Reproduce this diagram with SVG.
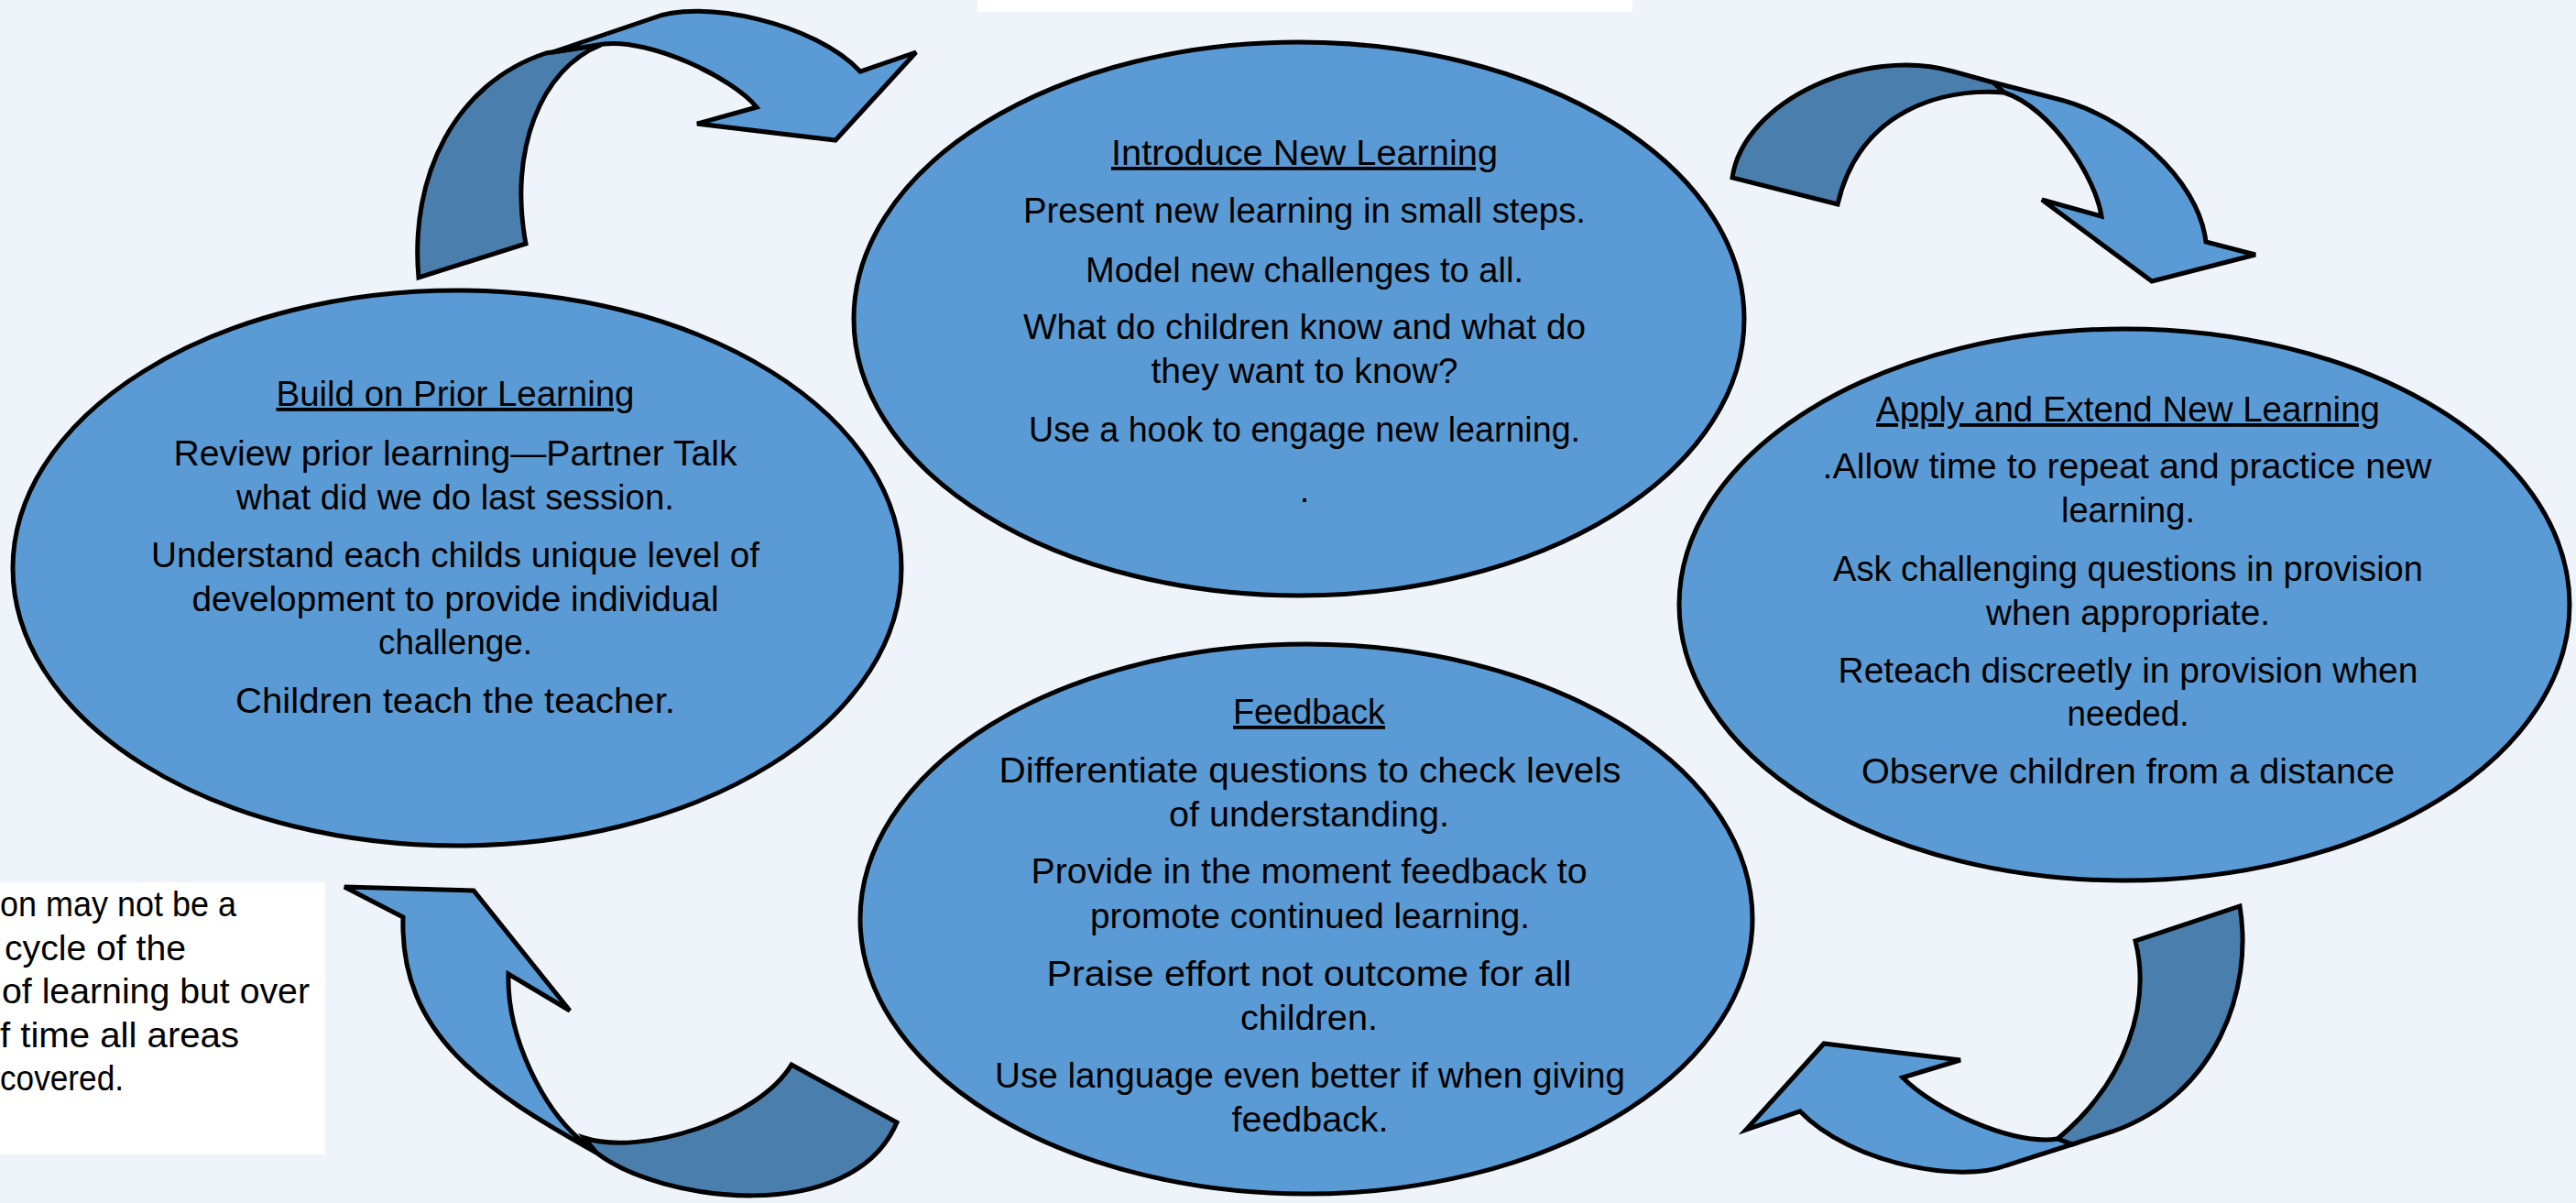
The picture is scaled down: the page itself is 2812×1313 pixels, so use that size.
<svg xmlns="http://www.w3.org/2000/svg" width="2812" height="1313" viewBox="0 0 2812 1313">
<style>
.bg{fill:#EFF4FB}
.node{fill:#5B9BD5;stroke:#000;stroke-width:5}
.lt{fill:#5B9BD5;stroke:#000;stroke-width:5;stroke-linejoin:miter}
.dk{fill:#4A7EAD;stroke:#000;stroke-width:5;stroke-linejoin:miter}
text{font-family:"Liberation Sans",Arial,sans-serif;font-size:38px;fill:#000}
.c{text-anchor:middle}
.h{text-decoration:underline}
</style>
<rect class="bg" x="0" y="0" width="2812" height="1313"/>
<rect x="1067" y="0" width="715" height="13" fill="#fff"/>
<g id="note">
<rect x="0" y="963" width="355" height="297" fill="#fff"/>
<text x="0" y="1000" textLength="258" lengthAdjust="spacingAndGlyphs">on may not be a</text>
<text x="5" y="1048" textLength="198" lengthAdjust="spacingAndGlyphs">cycle of the</text>
<text x="2" y="1095" textLength="336" lengthAdjust="spacingAndGlyphs">of learning but over</text>
<text x="0" y="1143" textLength="261" lengthAdjust="spacingAndGlyphs">f time all areas</text>
<text x="0" y="1190" textLength="135" lengthAdjust="spacingAndGlyphs">covered.</text>
</g>
<g id="connectors">
<g id="arrow-tl">
<path class="dk" d="M457,303 C447,193 496,91 596,58 L656,49 C590,75 555,165 574,266 Z"/>
<path class="lt" d="M603,57 L712,20 C765,-2 890,25 939,78 L1000,57 L912,153 L761,135 L826,117 C800,85 710,42 659,48 Z"/>
</g>
<g id="arrow-tr">
<path class="dk" d="M1891,194 C1903,110 2035,50 2132,78 L2176,90 L2188,101 C2120,96 2030,120 2006,223 Z"/>
<path class="lt" d="M2176,90 L2242,107 C2320,125 2400,195 2408,264 L2462,278 L2349,307 L2229,218 L2294,236 C2288,195 2240,118 2188,101 Z"/>
</g>
<g id="arrow-br">
<path class="dk" d="M2445,989 C2460,1080 2420,1195 2306,1235 L2262,1249 L2246,1243 C2322,1180 2348,1095 2331,1027 Z"/>
<path class="lt" d="M2262,1249 L2190,1272 C2140,1292 2020,1270 1965,1213 L1906,1233 L1991,1139 L2140,1157 L2077,1176 C2110,1210 2195,1250 2246,1243 Z"/>
</g>
<g id="arrow-bl">
<path class="dk" d="M979,1225 C930,1340 720,1312 651,1258 L638,1242 C700,1262 828,1222 864,1162 Z"/>
<path class="lt" d="M440,1001 C436,1130 530,1190 651,1258 L631,1242 C595,1210 553,1135 555,1063 L622,1103 L517,972 L376,968 Z"/>
</g>
</g>
<g id="node-introduce">
<ellipse class="node" cx="1418" cy="348" rx="486" ry="302"/>
<text class="c h" x="1424" y="180" textLength="422" lengthAdjust="spacingAndGlyphs">Introduce New Learning</text>
<text class="c" x="1424" y="243" textLength="614" lengthAdjust="spacingAndGlyphs">Present new learning in small steps.</text>
<text class="c" x="1424" y="308" textLength="478" lengthAdjust="spacingAndGlyphs">Model new challenges to all.</text>
<text class="c" x="1424" y="370" textLength="614" lengthAdjust="spacingAndGlyphs">What do children know and what do</text>
<text class="c" x="1424" y="418" textLength="335" lengthAdjust="spacingAndGlyphs">they want to know?</text>
<text class="c" x="1424" y="482" textLength="602" lengthAdjust="spacingAndGlyphs">Use a hook to engage new learning.</text>
<text class="c" x="1424" y="548">.</text>
</g>
<g id="node-build">
<ellipse class="node" cx="499" cy="620" rx="485" ry="303"/>
<text class="c h" x="497" y="443" textLength="391" lengthAdjust="spacingAndGlyphs">Build on Prior Learning</text>
<text class="c" x="497" y="508" textLength="615" lengthAdjust="spacingAndGlyphs">Review prior learning—Partner Talk</text>
<text class="c" x="497" y="556" textLength="478" lengthAdjust="spacingAndGlyphs">what did we do last session.</text>
<text class="c" x="497" y="619" textLength="664" lengthAdjust="spacingAndGlyphs">Understand each childs unique level of</text>
<text class="c" x="497" y="667" textLength="575" lengthAdjust="spacingAndGlyphs">development to provide individual</text>
<text class="c" x="497" y="714" textLength="168" lengthAdjust="spacingAndGlyphs">challenge.</text>
<text class="c" x="497" y="778" textLength="480" lengthAdjust="spacingAndGlyphs">Children teach the teacher.</text>
</g>
<g id="node-apply">
<ellipse class="node" cx="2319" cy="660" rx="486" ry="301"/>
<text class="c h" x="2323" y="460" textLength="550" lengthAdjust="spacingAndGlyphs">Apply and Extend New Learning</text>
<text class="c" x="2322" y="522" textLength="665" lengthAdjust="spacingAndGlyphs">.Allow time to repeat and practice new</text>
<text class="c" x="2323" y="570" textLength="146" lengthAdjust="spacingAndGlyphs">learning.</text>
<text class="c" x="2323" y="634" textLength="644" lengthAdjust="spacingAndGlyphs">Ask challenging questions in provision</text>
<text class="c" x="2323" y="682" textLength="310" lengthAdjust="spacingAndGlyphs">when appropriate.</text>
<text class="c" x="2323" y="745" textLength="633" lengthAdjust="spacingAndGlyphs">Reteach discreetly in provision when</text>
<text class="c" x="2323" y="792" textLength="133" lengthAdjust="spacingAndGlyphs">needed.</text>
<text class="c" x="2323" y="855" textLength="582" lengthAdjust="spacingAndGlyphs">Observe children from a distance</text>
</g>
<g id="node-feedback">
<ellipse class="node" cx="1426" cy="1003" rx="487" ry="300"/>
<text class="c h" x="1429" y="790" textLength="166" lengthAdjust="spacingAndGlyphs">Feedback</text>
<text class="c" x="1430" y="854" textLength="679" lengthAdjust="spacingAndGlyphs">Differentiate questions to check levels</text>
<text class="c" x="1429" y="902" textLength="306" lengthAdjust="spacingAndGlyphs">of understanding.</text>
<text class="c" x="1429" y="964" textLength="607" lengthAdjust="spacingAndGlyphs">Provide in the moment feedback to</text>
<text class="c" x="1430" y="1013" textLength="480" lengthAdjust="spacingAndGlyphs">promote continued learning.</text>
<text class="c" x="1429" y="1076" textLength="573" lengthAdjust="spacingAndGlyphs">Praise effort not outcome for all</text>
<text class="c" x="1429" y="1124" textLength="150" lengthAdjust="spacingAndGlyphs">children.</text>
<text class="c" x="1430" y="1187" textLength="688" lengthAdjust="spacingAndGlyphs">Use language even better if when giving</text>
<text class="c" x="1430" y="1235" textLength="171" lengthAdjust="spacingAndGlyphs">feedback.</text>
</g>
</svg>
